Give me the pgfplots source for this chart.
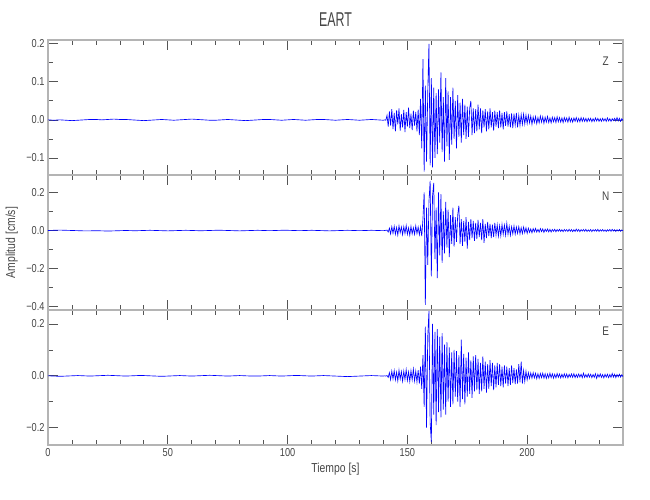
\documentclass[border=0pt]{standalone}
\usepackage{fontspec}
\setmainfont{Liberation Sans}[FakeStretch=0.8]
\newfontfamily\titlefont{Liberation Sans}[FakeStretch=0.62]
\usepackage{pgfplots}
\pgfplotsset{compat=1.18}

\definecolor{framegray}{RGB}{180,180,180}
\definecolor{tickgray}{RGB}{85,85,85}
\definecolor{txtgray}{RGB}{70,70,70}

\pgfplotsset{
  seis/.style={
    width=575pt, height=135pt, scale only axis,
    anchor=south west,
    xmin=0, xmax=240,
    xtick={0,50,100,150,200,250}, minor x tick num=4,
    xticklabels={},
    xtick pos=both, ytick pos=both, yticklabel pos=left,
    tick align=inside,
    major tick length=10pt, minor tick length=5pt,
    axis line style={framegray, line width=1.4pt},
    every tick/.style={tickgray, line width=0.7pt},
    ticklabel style={font=\fontsize{11.5}{13}\selectfont, text=txtgray},
    label style={font=\fontsize{13}{15}\selectfont, text=txtgray},
  },
  trace/.style={blue, line width=0.65pt, mark=none},
}
\tikzset{comp/.style={font=\fontsize{12.5}{14}\selectfont, text=txtgray}}

\begin{document}
\begin{tikzpicture}
\useasboundingbox (-48pt,-55pt) rectangle (602pt,445pt);

% --- Z ---
\begin{axis}[seis, at={(0pt,270pt)},
  ymin=-0.145, ymax=0.21,
  ytick={-0.1,0,0.1,0.2}, yticklabels={−0.1,0.0,0.1,0.2},
  minor ytick={-0.05,0.05,0.15},
  title={EART},
  title style={at={(axis description cs:0.5,1)}, anchor=center, yshift=14pt,
    font=\titlefont\fontsize{20}{22}\selectfont, text=txtgray},
]
\addplot[trace] coordinates {
(0,0.000) (2.5,-0.001) (5,0.000) (7.5,-0.001) (10,-0.002) (12.5,-0.001) (15,0.000) (17.5,0.001) (20,0.001) (22.5,0.000)
(25,0.001) (27.5,0.002) (30,0.001) (32.5,0.001) (35,0.000) (37.5,-0.001) (40,-0.002) (42.5,-0.001) (45,0.000) (47.5,0.001)
(50,0.000) (52.5,-0.001) (55,0.000) (57.5,0.001) (60,0.002) (62.5,0.001) (65,0.000) (67.5,-0.001) (70,-0.001) (72.5,0.000)
(75,0.001) (77.5,0.000) (80,-0.001) (82.5,-0.002) (85,-0.001) (87.5,0.000) (90,0.001) (92.5,0.001) (95,0.000) (97.5,-0.001)
(100,0.000) (102.5,0.001) (105,0.000) (107.5,-0.001) (110,0.000) (112.5,0.001) (115,0.001) (117.5,0.000) (120,-0.001) (122.5,0.000)
(125,0.001) (127.5,0.000) (130,-0.001) (132.5,0.000) (135,0.001) (137.5,0.000) (140,-0.001)
(140.5,0.000) (141,-0.001) (141.5,0.012) (142,-0.018) (142.5,0.022) (143,-0.015) (143.5,0.028) (144,-0.024) (144.5,0.018) (145,-0.030)
(145.5,0.025) (146,-0.012) (146.5,0.030) (147,-0.028) (147.5,0.015) (148,-0.020) (148.5,0.026) (149,-0.032) (149.5,0.020) (150,-0.018)
(150.5,0.032) (151,-0.022) (151.5,0.016) (152,-0.027) (152.5,0.024) (153,-0.015) (153.5,0.021) (154,-0.030) (154.5,0.027) (155,-0.040)
(155.5,0.055) (156,-0.075) (156.5,0.160) (157,-0.136) (157.5,0.090) (158,-0.110) (158.5,0.070) (159,0.200) (159.5,-0.120) (160,0.110)
(160.5,-0.125) (161,0.085) (161.5,-0.100) (162,0.070) (162.5,-0.090) (163,0.080) (163.5,-0.060) (164,0.125) (164.5,-0.085) (165,0.060)
(165.5,-0.110) (166,0.110) (166.5,-0.070) (167,0.075) (167.5,-0.105) (168,0.060) (168.5,-0.065) (169,0.085) (169.5,-0.050) (170,0.050)
(170.5,-0.075) (171,0.065) (171.5,-0.045) (172,0.045) (172.5,-0.060) (173,0.055) (173.5,-0.040) (174,0.040) (174.5,-0.050) (175,0.035)
(175.5,-0.045) (176,0.030) (176.5,0.050) (177,-0.040) (177.5,0.030) (178,-0.035) (178.5,0.028) (179,-0.030) (179.5,0.040) (180,-0.025)
(180.5,0.030) (181,-0.035) (181.5,0.025) (182,-0.020) (182.5,0.028) (183,-0.030) (183.5,0.022) (184,-0.025) (184.5,0.030) (185,-0.020)
(185.5,0.020) (186,-0.028) (186.5,0.024) (187,-0.018) (187.5,0.020) (188,-0.022) (188.5,0.025) (189,-0.020) (189.5,0.018) (190,-0.025)
(190.5,0.020) (191,-0.016) (191.5,0.022) (192,-0.018) (192.5,0.015) (193,-0.020) (193.5,0.017) (194,-0.022) (194.5,0.016) (195,-0.014)
(195.5,0.018) (196,-0.020) (196.5,0.012) (197,-0.015) (197.5,0.014) (198,-0.012) (198.5,0.015) (199,-0.011) (199.5,0.013) (200,-0.010)
(200.5,0.012) (201,-0.008) (201.5,0.010) (202,-0.012) (202.5,0.008) (203,-0.007) (203.5,0.009) (204,-0.010) (204.5,0.006) (205,-0.008)
(205.5,0.010) (206,-0.006) (206.5,0.008) (207,-0.009) (207.5,0.007) (208,-0.006) (208.5,0.009) (209,-0.007) (209.5,0.005) (210,-0.008)
(210.5,0.007) (211,-0.005) (211.5,0.006) (212,-0.007) (212.5,0.008) (213,-0.005) (213.5,0.006) (214,-0.006) (214.5,0.005) (215,-0.007)
(215.5,0.006) (216,-0.004) (216.5,0.005) (217,-0.006) (217.5,0.007) (218,-0.005) (218.5,0.004) (219,-0.006) (219.5,0.005) (220,-0.004)
(220.5,0.006) (221,-0.005) (221.5,0.004) (222,-0.005) (222.5,0.006) (223,-0.004) (223.5,0.005) (224,-0.004) (224.5,0.004) (225,-0.005)
(225.5,0.004) (226,-0.003) (226.5,0.004) (227,-0.005) (227.5,0.003) (228,-0.004) (228.5,0.005) (229,-0.003) (229.5,0.004) (230,-0.004)
(230.5,0.003) (231,-0.004) (231.5,0.004) (232,-0.003) (232.5,0.003) (233,-0.004) (233.5,0.005) (234,-0.003) (234.5,0.003) (235,-0.004)
(235.5,0.003) (236,-0.002) (236.5,0.004) (237,-0.003) (237.5,0.006) (238,-0.003) (238.5,0.004) (239,-0.004) (239.5,0.003) (240,-0.002)
};
\node[comp] at (rel axis cs:0.97,0.845) {Z};
\end{axis}

% --- N ---
\begin{axis}[seis, at={(0pt,135pt)},
  ymin=-0.417, ymax=0.291,
  ytick={-0.4,-0.2,0,0.2}, yticklabels={−0.4,−0.2,0.0,0.2},
  minor ytick={-0.3,-0.1,0.1},
  ylabel={Amplitud [cm/s]},
  ylabel style={at={(axis description cs:-0.063,0.5)}, anchor=center},
]
\addplot[trace] coordinates {
(0,0.000) (2.5,0.001) (5,0.002) (7.5,0.001) (10,0.000) (12.5,-0.001) (15,-0.002) (17.5,-0.002) (20,-0.001) (22.5,-0.002)
(25,-0.003) (27.5,-0.002) (30,-0.001) (32.5,0.000) (35,-0.001) (37.5,-0.001) (40,0.000) (42.5,0.001) (45,0.000) (47.5,-0.001)
(50,-0.002) (52.5,-0.001) (55,0.000) (57.5,0.001) (60,0.000) (62.5,-0.001) (65,-0.001) (67.5,0.000) (70,0.001) (72.5,0.001)
(75,0.000) (77.5,-0.001) (80,-0.002) (82.5,-0.001) (85,0.000) (87.5,0.001) (90,0.000) (92.5,-0.001) (95,0.000) (97.5,0.001)
(100,0.001) (102.5,0.000) (105,-0.001) (107.5,0.000) (110,0.001) (112.5,0.000) (115,-0.001) (117.5,-0.002) (120,-0.001) (122.5,0.000)
(125,0.001) (127.5,0.000) (130,-0.001) (132.5,0.000) (135,0.001) (137.5,0.000) (140,-0.001)
(140.5,0.000) (141,0.001) (141.5,0.002) (142,-0.008) (142.5,0.012) (143,-0.018) (143.5,0.020) (144,-0.015) (144.5,0.022) (145,-0.020)
(145.5,0.016) (146,-0.024) (146.5,0.025) (147,-0.012) (147.5,0.018) (148,-0.022) (148.5,0.020) (149,-0.016) (149.5,0.026) (150,-0.020)
(150.5,0.014) (151,-0.025) (151.5,0.022) (152,-0.018) (152.5,0.015) (153,-0.020) (153.5,0.024) (154,-0.016) (154.5,0.018) (155,-0.022)
(155.5,0.020) (156,-0.030) (156.5,0.060) (157,0.200) (157.5,-0.390) (158,0.120) (158.5,-0.180) (159,0.150) (159.5,0.260) (160,-0.240)
(160.5,0.180) (161,0.250) (161.5,-0.150) (162,0.120) (162.5,-0.250) (163,0.200) (163.5,-0.130) (164,0.190) (164.5,-0.170) (165,0.100)
(165.5,-0.120) (166,0.150) (166.5,-0.090) (167,0.110) (167.5,-0.140) (168,0.080) (168.5,-0.070) (169,0.120) (169.5,-0.085) (170,0.070)
(170.5,-0.060) (171,0.080) (171.5,0.130) (172,-0.070) (172.5,0.060) (173,-0.080) (173.5,0.050) (174,-0.060) (174.5,0.070) (175,-0.095)
(175.5,0.045) (176,-0.050) (176.5,0.060) (177,-0.040) (177.5,0.050) (178,-0.055) (178.5,0.040) (179,-0.045) (179.5,0.055) (180,-0.035)
(180.5,0.040) (181,-0.050) (181.5,0.060) (182,-0.065) (182.5,0.035) (183,-0.040) (183.5,0.045) (184,-0.030) (184.5,0.035) (185,-0.040)
(185.5,0.030) (186,-0.035) (186.5,0.040) (187,-0.025) (187.5,0.030) (188,-0.030) (188.5,0.025) (189,-0.028) (189.5,0.032) (190,-0.020)
(190.5,0.028) (191,-0.025) (191.5,0.038) (192,-0.020) (192.5,0.022) (193,-0.025) (193.5,0.020) (194,-0.018) (194.5,0.024) (195,-0.020)
(195.5,0.018) (196,-0.015) (196.5,0.020) (197,-0.018) (197.5,0.015) (198,-0.016) (198.5,0.018) (199,-0.012) (199.5,0.014) (200,-0.015)
(200.5,0.012) (201,-0.010) (201.5,0.008) (202,-0.012) (202.5,0.010) (203,-0.007) (203.5,0.011) (204,-0.008) (204.5,0.006) (205,-0.009)
(205.5,0.010) (206,-0.006) (206.5,0.008) (207,-0.010) (207.5,0.007) (208,-0.005) (208.5,0.008) (209,-0.007) (209.5,0.006) (210,-0.008)
(210.5,0.005) (211,-0.004) (211.5,0.006) (212,-0.007) (212.5,0.005) (213,-0.004) (213.5,0.006) (214,-0.005) (214.5,0.004) (215,-0.006)
(215.5,0.005) (216,-0.003) (216.5,0.004) (217,-0.005) (217.5,0.006) (218,-0.004) (218.5,0.005) (219,-0.006) (219.5,0.004) (220,-0.005)
(220.5,0.007) (221,-0.004) (221.5,0.005) (222,-0.006) (222.5,0.004) (223,-0.003) (223.5,0.005) (224,-0.004) (224.5,0.006) (225,-0.005)
(225.5,0.003) (226,-0.004) (226.5,0.005) (227,-0.006) (227.5,0.004) (228,-0.003) (228.5,0.005) (229,-0.004) (229.5,0.006) (230,-0.005)
(230.5,0.004) (231,-0.003) (231.5,0.005) (232,-0.004) (232.5,0.003) (233,-0.005) (233.5,0.004) (234,-0.003) (234.5,0.005) (235,-0.004)
(235.5,0.006) (236,-0.003) (236.5,0.004) (237,-0.005) (237.5,0.004) (238,-0.003) (238.5,0.005) (239,-0.004) (239.5,0.003) (240,-0.002)
};
\node[comp] at (rel axis cs:0.97,0.845) {N};
\end{axis}

% --- E ---
\begin{axis}[seis, at={(0pt,0pt)},
  ymin=-0.267, ymax=0.254,
  ytick={-0.2,0,0.2}, yticklabels={−0.2,0.0,0.2},
  minor ytick={-0.1,0.1},
  xticklabels={0,50,100,150,200},
  xlabel={Tiempo [s]},
  xlabel style={at={(axis description cs:0.5,0)}, anchor=center, yshift=-24pt},
]
\addplot[trace] coordinates {
(0,0.000) (2.5,-0.001) (5,-0.002) (7.5,-0.001) (10,0.000) (12.5,0.001) (15,0.000) (17.5,-0.001) (20,0.000) (22.5,0.001)
(25,0.002) (27.5,0.001) (30,0.000) (32.5,-0.001) (35,0.000) (37.5,0.001) (40,0.001) (42.5,0.000) (45,-0.001) (47.5,-0.002)
(50,-0.001) (52.5,0.000) (55,0.001) (57.5,0.000) (60,-0.001) (62.5,0.000) (65,0.001) (67.5,0.002) (70,0.001) (72.5,0.000)
(75,-0.001) (77.5,0.000) (80,0.001) (82.5,0.000) (85,-0.001) (87.5,-0.001) (90,0.000) (92.5,0.001) (95,0.000) (97.5,-0.001)
(100,0.000) (102.5,0.001) (105,0.001) (107.5,0.000) (110,-0.001) (112.5,0.000) (115,0.001) (117.5,0.000) (120,-0.001) (122.5,-0.002)
(125,-0.003) (127.5,-0.002) (130,-0.001) (132.5,0.000) (135,0.001) (137.5,0.000) (140,-0.001)
(140.5,0.000) (141,-0.001) (141.5,0.001) (142,-0.006) (142.5,0.012) (143,-0.015) (143.5,0.018) (144,-0.012) (144.5,0.020) (145,-0.016)
(145.5,0.014) (146,-0.020) (146.5,0.022) (147,-0.013) (147.5,0.016) (148,-0.021) (148.5,0.018) (149,-0.014) (149.5,0.024) (150,-0.018)
(150.5,0.015) (151,-0.022) (151.5,0.020) (152,-0.016) (152.5,0.026) (153,-0.020) (153.5,0.018) (154,-0.024) (154.5,0.022) (155,-0.030)
(155.5,0.035) (156,-0.050) (156.5,0.080) (157,-0.120) (157.5,0.190) (158,-0.200) (158.5,0.150) (159,0.250) (159.5,-0.180) (160,-0.255)
(160.5,0.200) (161,-0.150) (161.5,0.170) (162,-0.190) (162.5,0.180) (163,-0.140) (163.5,0.150) (164,-0.160) (164.5,0.165) (165,-0.130)
(165.5,0.120) (166,-0.150) (166.5,0.130) (167,-0.100) (167.5,0.110) (168,-0.120) (168.5,0.090) (169,-0.110) (169.5,0.100) (170,-0.080)
(170.5,0.095) (171,-0.100) (171.5,0.080) (172,-0.120) (172.5,0.140) (173,-0.090) (173.5,0.085) (174,-0.110) (174.5,0.070) (175,-0.080)
(175.5,0.090) (176,-0.070) (176.5,0.060) (177,-0.085) (177.5,0.075) (178,-0.060) (178.5,0.080) (179,-0.055) (179.5,0.065) (180,-0.070)
(180.5,0.050) (181,-0.060) (181.5,0.075) (182,-0.050) (182.5,0.055) (183,-0.065) (183.5,0.045) (184,-0.050) (184.5,0.060) (185,-0.040)
(185.5,0.050) (186,-0.055) (186.5,0.040) (187,-0.045) (187.5,0.050) (188,-0.035) (188.5,0.045) (189,-0.040) (189.5,0.035) (190,-0.045)
(190.5,0.040) (191,-0.030) (191.5,0.035) (192,-0.040) (192.5,0.030) (193,-0.035) (193.5,0.040) (194,-0.028) (194.5,0.030) (195,-0.032)
(195.5,0.025) (196,-0.030) (196.5,0.045) (197,-0.025) (197.5,0.055) (198,-0.030) (198.5,0.020) (199,-0.022) (199.5,0.018) (200,-0.015)
(200.5,0.012) (201,-0.010) (201.5,0.011) (202,-0.009) (202.5,0.012) (203,-0.008) (203.5,0.010) (204,-0.011) (204.5,0.008) (205,-0.010)
(205.5,0.009) (206,-0.007) (206.5,0.010) (207,-0.009) (207.5,0.008) (208,-0.010) (208.5,0.007) (209,-0.008) (209.5,0.010) (210,-0.007)
(210.5,0.008) (211,-0.009) (211.5,0.006) (212,-0.008) (212.5,0.009) (213,-0.006) (213.5,0.007) (214,-0.008) (214.5,0.006) (215,-0.007)
(215.5,0.008) (216,-0.006) (216.5,0.007) (217,-0.008) (217.5,0.006) (218,-0.005) (218.5,0.007) (219,-0.006) (219.5,0.008) (220,-0.007)
(220.5,0.005) (221,-0.006) (221.5,0.007) (222,-0.005) (222.5,0.006) (223,-0.007) (223.5,0.010) (224,-0.006) (224.5,0.005) (225,-0.006)
(225.5,0.007) (226,-0.005) (226.5,0.006) (227,-0.007) (227.5,0.005) (228,-0.006) (228.5,0.008) (229,-0.010) (229.5,0.006) (230,-0.005)
(230.5,0.007) (231,-0.006) (231.5,0.005) (232,-0.008) (232.5,0.006) (233,-0.005) (233.5,0.006) (234,-0.007) (234.5,0.005) (235,-0.006)
(235.5,0.009) (236,-0.005) (236.5,0.006) (237,-0.007) (237.5,0.005) (238,-0.004) (238.5,0.006) (239,-0.005) (239.5,0.004) (240,-0.003)
};
\node[comp] at (rel axis cs:0.97,0.845) {E};
\end{axis}
\end{tikzpicture}
\end{document}
